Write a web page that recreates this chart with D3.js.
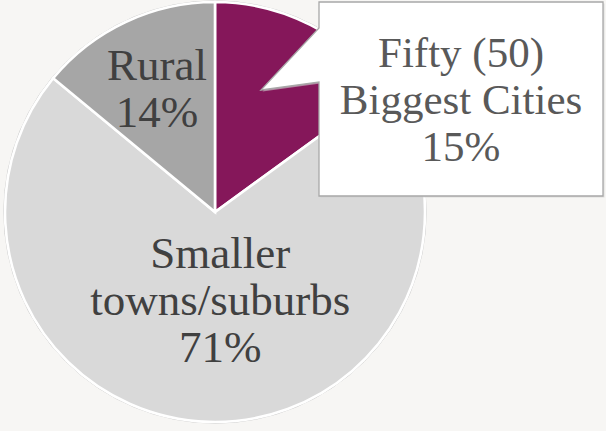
<!DOCTYPE html>
<html>
<head>
<meta charset="utf-8">
<script src="https://cdn.jsdelivr.net/npm/d3@7"></script>
<style>
  html, body { margin: 0; padding: 0; background: #f7f6f4; }
  svg { display: block; }
</style>
</head>
<body>
<svg id="chart" width="606" height="431"></svg>
<script>
// Share of population by place type
const categories = ["Fifty (50) Biggest Cities", "Smaller towns/suburbs", "Rural"];
const values = [15, 71, 14];
const labelLines = [
  ["Fifty (50)", "Biggest Cities", "15%"],
  ["Smaller", "towns/suburbs", "71%"],
  ["Rural", "14%"]
];
const colors = ["#85175a", "#d9d9d9", "#a6a6a6"];

const W = 606, H = 431;
const cx = 215, cy = 212, R = 210;
const svg = d3.select("#chart");

const data = categories.map((c, i) => ({ name: c, value: values[i], lines: labelLines[i], color: colors[i] }));

const pie = d3.pie().sort(null).value(d => d.value).startAngle(0).endAngle(2 * Math.PI);
const arcs = pie(data);
const arc = d3.arc().innerRadius(0).outerRadius(R);

const g = svg.append("g").attr("transform", `translate(${cx},${cy})`);

// faint rim shadow around the pie
g.append("circle").attr("r", R + 1.2).attr("fill", "none")
  .attr("stroke", "#c9c9c9").attr("stroke-width", 1);

g.selectAll("path.slice").data(arcs).join("path")
  .attr("class", "slice")
  .attr("d", arc)
  .attr("fill", d => d.data.color)
  .attr("stroke", "#ffffff")
  .attr("stroke-width", 2.6)
  .attr("stroke-linejoin", "miter");

// in-slice labels (the first slice is labelled in the callout)
const labelRadius = { "Smaller towns/suburbs": 88, "Rural": 136 };
const labelFont = "'Liberation Serif', 'Times New Roman', serif";
const lineGap = 47;

arcs.slice(1).forEach(a => {
  const la = d3.arc().innerRadius(labelRadius[a.data.name]).outerRadius(labelRadius[a.data.name]);
  const [lx, ly] = la.centroid(a);
  const n = a.data.lines.length;
  const t = g.append("text")
    .attr("text-anchor", "middle")
    .attr("font-family", labelFont)
    .attr("font-size", 45)
    .attr("fill", "#404040");
  a.data.lines.forEach((line, i) => {
    t.append("tspan")
      .attr("x", lx + (a.data.name === "Smaller towns/suburbs" ? 8 : 0))
      .attr("y", ly + (i - (n - 1) / 2) * lineGap + 15)
      .text(line);
  });
});

// callout for the biggest-cities slice
const box = { x0: 319, y0: 2, x1: 603, y1: 196 };
const ptr = { top: 28, tipX: 261, tipY: 90, bottom: 82 };
const callout = d3.path();
callout.moveTo(box.x0, box.y0);
callout.lineTo(box.x1, box.y0);
callout.lineTo(box.x1, box.y1);
callout.lineTo(box.x0, box.y1);
callout.lineTo(box.x0, ptr.bottom);
callout.lineTo(ptr.tipX, ptr.tipY);
callout.lineTo(box.x0, ptr.top);
callout.closePath();

svg.append("path")
  .attr("d", callout.toString())
  .attr("transform", "translate(1.5,1.5)")
  .attr("fill", "#d0d0d0")
  .attr("opacity", 0.6);
svg.append("path")
  .attr("d", callout.toString())
  .attr("fill", "#ffffff")
  .attr("stroke", "#a8a8a8")
  .attr("stroke-width", 1.3)
  .attr("stroke-linejoin", "miter");

const bt = svg.append("text")
  .attr("text-anchor", "middle")
  .attr("font-family", labelFont)
  .attr("font-size", 43)
  .attr("fill", "#595959");
labelLines[0].forEach((line, i) => {
  bt.append("tspan")
    .attr("x", (box.x0 + box.x1) / 2)
    .attr("y", 67 + i * 47)
    .text(line);
});
</script>
</body>
</html>
